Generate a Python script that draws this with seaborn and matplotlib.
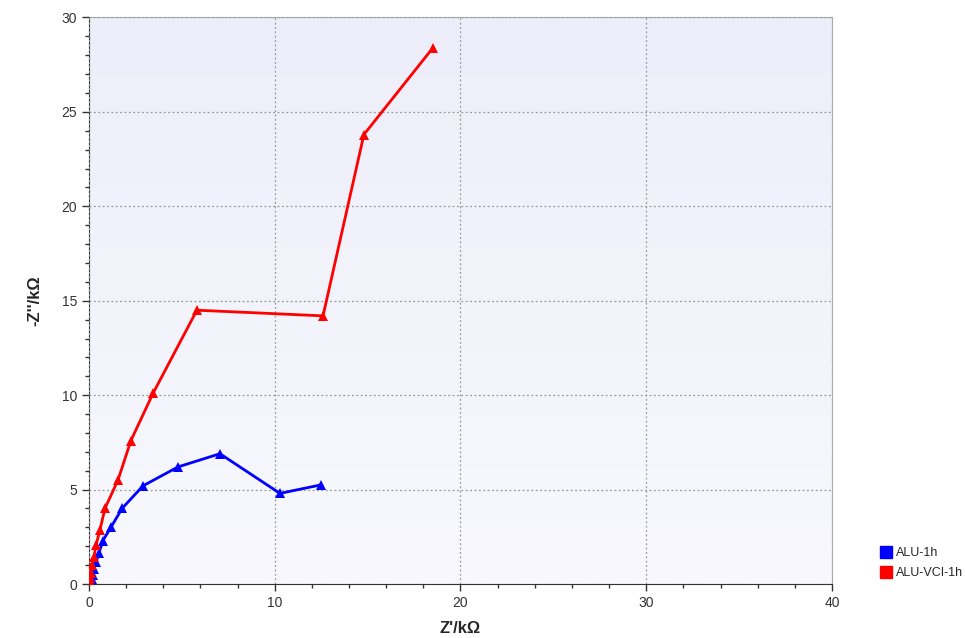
import numpy as np
import pandas as pd
import matplotlib
matplotlib.use("Agg")
import matplotlib.pyplot as plt
import seaborn as sns
from matplotlib.ticker import MultipleLocator

# Nyquist data, Z' and -Z'' in kOhm
alu_zre = [0.12, 0.15, 0.20, 0.27, 0.38, 0.54, 0.75, 1.18, 1.78, 2.91, 4.79, 7.05, 10.28, 12.49]
alu_zim = [0.10, 0.25, 0.50, 0.80, 1.16, 1.64, 2.30, 3.00, 4.00, 5.20, 6.20, 6.90, 4.80, 5.25]
vci_zre = [0.03, 0.06, 0.10, 0.16, 0.27, 0.38, 0.59, 0.86, 1.56, 2.26, 3.45, 5.81, 12.60, 14.80, 18.52]
vci_zim = [0.10, 0.30, 0.60, 1.00, 1.43, 2.06, 2.86, 4.00, 5.50, 7.60, 10.10, 14.50, 14.20, 23.80, 28.40]
labels = ["ALU-1h", "ALU-VCI-1h"]

sns.set_style("white")
plt.rcParams['font.family'] = ['Liberation Sans', 'DejaVu Sans']

df = pd.concat([
    pd.DataFrame({"zre": alu_zre, "zim": alu_zim, "sample": labels[0]}),
    pd.DataFrame({"zre": vci_zre, "zim": vci_zim, "sample": labels[1]}),
])

fig = plt.figure(figsize=(9.65, 6.38), dpi=100)
ax = fig.add_axes([0.0922, 0.0846, 0.770, 0.888])

# light lavender gradient background
grad = np.linspace(0, 1, 256).reshape(-1, 1)
ax.imshow(grad, extent=[0, 1, 0, 1], transform=ax.transAxes, aspect="auto",
          cmap=matplotlib.colors.LinearSegmentedColormap.from_list("bg", ["#f8f8fe", "#eeeefa"]),
          zorder=0, origin="lower")

sns.lineplot(data=df, x="zre", y="zim", hue="sample", sort=False,
             palette={labels[0]: "#0000ff", labels[1]: "#ff0000"},
             marker="^", markersize=7, markeredgewidth=0, linewidth=2,
             ax=ax, legend=False, zorder=3)

ax.set_xlim(0, 40)
ax.set_ylim(0, 30)
ax.xaxis.set_major_locator(MultipleLocator(10))
ax.xaxis.set_minor_locator(MultipleLocator(2))
ax.yaxis.set_major_locator(MultipleLocator(5))
ax.yaxis.set_minor_locator(MultipleLocator(1))
ax.grid(True, which="major", linestyle=(0, (1.5, 2)), color="#999999", linewidth=0.9)
ax.set_axisbelow(False)
ax.tick_params(which="major", direction="out", length=5, width=1, colors="#333333",
               labelsize=10, bottom=True, left=True)
ax.tick_params(which="minor", direction="out", length=3, width=1, colors="#333333",
               bottom=True, left=True)
for s in ["left", "bottom"]:
    ax.spines[s].set_color("#333333")
for s in ["top", "right"]:
    ax.spines[s].set_color("#aaaaaa")

ax.set_xlabel("Z'/kΩ", fontsize=12, fontweight="bold", labelpad=8)
ax.set_ylabel("-Z''/kΩ", fontsize=12, fontweight="bold", labelpad=14)

# legend outside to the right
handles = [plt.Line2D([], [], marker="s", linestyle="", color=c, markersize=8)
           for c in ["#0000ff", "#ff0000"]]
fig.legend(handles, labels, loc="lower left", bbox_to_anchor=(0.9, 0.075),
           frameon=False, fontsize=9, handletextpad=0.3, labelspacing=0.6,
           handlelength=1.0)

fig.savefig("out.png", dpi=100)
